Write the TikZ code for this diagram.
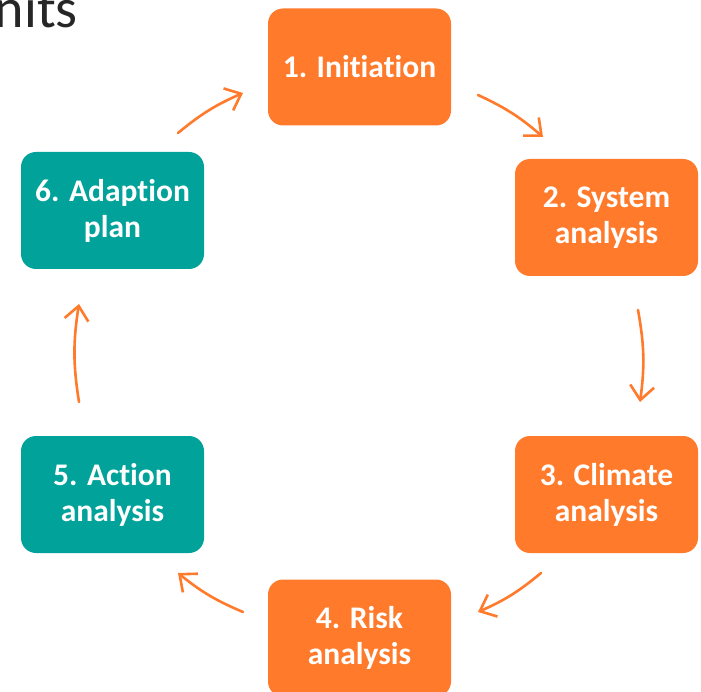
\documentclass[tikz,border=0pt]{standalone}
\usepackage{fontspec}
\setmainfont{Carlito}[Ligatures={NoCommon}]
\usetikzlibrary{arrows.meta}
\definecolor{orng}{HTML}{FF7A2B}
\definecolor{tealbox}{HTML}{00A29A}
\definecolor{txtdark}{HTML}{262626}
\begin{document}
\begin{tikzpicture}[x=1pt,y=-1pt,
  stepbox/.style={rounded corners=15pt, minimum width=183pt, minimum height=117pt,
    text=white, font=\bfseries\fontsize{31.5}{36}\selectfont, align=center, inner sep=0pt,
    execute at begin node={\vspace*{5pt}}},
  orangebox/.style={stepbox, fill=orng},
  tealstep/.style={stepbox, fill=tealbox},
  cyc/.style={draw=orng, line width=2.6pt, line cap=round,
    -{Straight Barb[length=14pt,width=24pt,line width=2.6pt]}}]
\path[use as bounding box] (0,0) rectangle (701,692);
\clip (0,0) rectangle (701,692);

\node[anchor=base east, text=txtdark, font=\fontsize{56}{64}\selectfont, inner sep=0pt] (title) at (78,28) {nits};

\node[orangebox] (s1) at (359.5,67) {1. Initiation};
\node[orangebox] (s2) at (606.5,217.5) {2. System\\analysis};
\node[orangebox] (s3) at (606.5,494.5) {3. Climate\\analysis};
\node[orangebox] (s4) at (359.5,638) {4. Risk\\analysis};
\node[tealstep] (s5) at (112.5,494.5) {5. Action\\analysis};
\node[tealstep] (s6) at (112.5,210.5) {6. Adaption\\plan};

\coordinate (a1s) at (478,95);  \coordinate (a1e) at (543,137);
\coordinate (a2s) at (638,310); \coordinate (a2e) at (640,402);
\coordinate (a3s) at (541,573); \coordinate (a3e) at (478,612);
\coordinate (a4s) at (243,612); \coordinate (a4e) at (178,573);
\coordinate (a5s) at (79,402);  \coordinate (a5e) at (79,304);
\coordinate (a6s) at (178,133); \coordinate (a6e) at (243,93);

\draw[cyc] (a1s) to[bend left=8] (a1e);
\draw[cyc] (a2s) to[bend left=9] (a2e);
\draw[cyc] (a3s) to[bend left=8] (a3e);
\draw[cyc] (a4s) to[bend left=8] (a4e);
\draw[cyc] (a5s) to[bend left=9] (a5e);
\draw[cyc] (a6s) to[bend left=8] (a6e);
\end{tikzpicture}
\end{document}
